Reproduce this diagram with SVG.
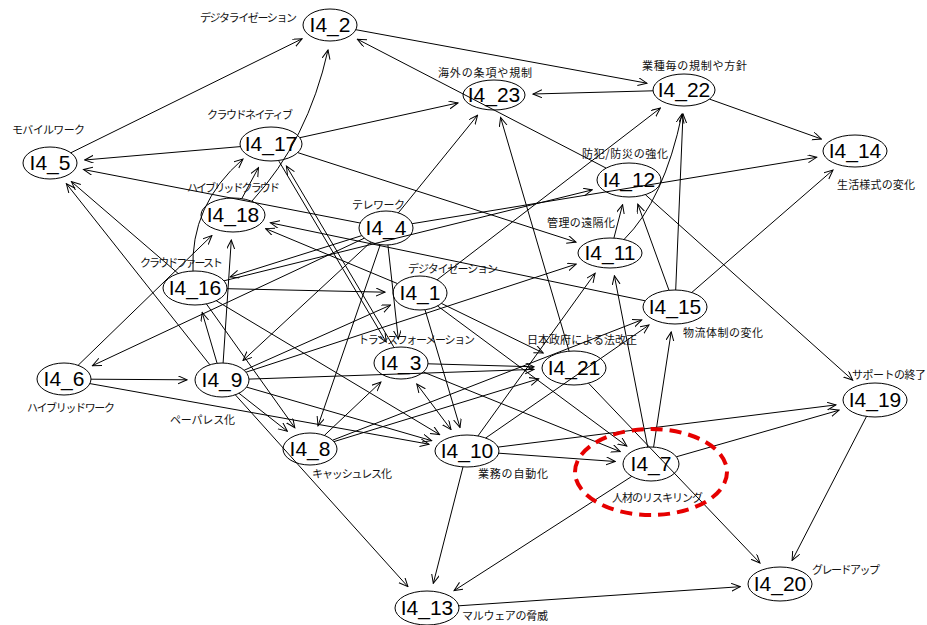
<svg xmlns="http://www.w3.org/2000/svg" width="927" height="625" viewBox="0 0 927 625">
<style>
.e{stroke:#000;stroke-width:1;fill:none;marker-end:url(#ah)}
.b{marker-start:url(#ah)}
.n ellipse{fill:none;stroke:#000;stroke-width:1}
.n .t{font-family:"Liberation Sans",Arial,sans-serif;font-size:21px;fill:#000;text-anchor:middle}
.n .l{font-family:"Noto Sans CJK JP","Noto Sans",sans-serif;font-size:11px;fill:#111}
.n ellipse.hl{fill:none;stroke:#e60000;stroke-width:4;stroke-dasharray:12 7}
</style>
<defs>
<marker id="ah" markerWidth="10" markerHeight="10" refX="9" refY="4" orient="auto-start-reverse" markerUnits="userSpaceOnUse"><path d="M0,0 L9,4 L0,8" fill="none" stroke="#000" stroke-width="1"/></marker>
</defs>
<rect width="927" height="625" fill="#fff"/>
<g id="edges">
<line class="e" x1="70.8" y1="152.8" x2="302.1" y2="38.8"/>
<line class="e" x1="240.4" y1="146.6" x2="84.7" y2="160"/>
<line class="e" x1="360.2" y1="223" x2="83.5" y2="169.5"/>
<line class="e" x1="209.9" y1="364.8" x2="66.4" y2="183.7"/>
<line class="e" x1="178.2" y1="273.5" x2="71.4" y2="181.6"/>
<line class="e" x1="299.8" y1="137.7" x2="458" y2="102.9"/>
<line class="e" x1="297.7" y1="152.6" x2="576" y2="242.1"/>
<path class="e" d="M193,271 Q190,205 243,159"/>
<line class="e" x1="241.8" y1="198.6" x2="258.5" y2="167.6"/>
<line class="e" x1="393.7" y1="346.9" x2="286.4" y2="166"/>
<line class="e" x1="278.9" y1="161.1" x2="386.2" y2="342"/>
<path class="e" d="M252,201 Q308,140 328,50"/>
<line class="e" x1="355.8" y1="29.7" x2="646.9" y2="83.2"/>
<line class="e" x1="606.1" y1="168.1" x2="357.4" y2="39.2"/>
<line class="e" x1="398.3" y1="212.9" x2="477.6" y2="115.2"/>
<line class="e" x1="653.1" y1="90.8" x2="533" y2="94"/>
<line class="e" x1="569.1" y1="351.2" x2="500.6" y2="117.5"/>
<line class="e" x1="709.5" y1="99.1" x2="821.4" y2="139"/>
<line class="e" x1="437.1" y1="279.8" x2="660.4" y2="108.1"/>
<path class="e" d="M624,239.5 Q664,200 682,114"/>
<line class="e" x1="675.7" y1="290" x2="683" y2="114"/>
<line class="e" x1="412.1" y1="223.7" x2="816.7" y2="157.3"/>
<line class="e" x1="691.7" y1="292.5" x2="833" y2="170"/>
<line class="e" x1="613.9" y1="238.1" x2="622.6" y2="204.6"/>
<line class="e" x1="669" y1="290.3" x2="637.8" y2="204.2"/>
<line class="e" x1="224" y1="280.8" x2="592.2" y2="189.9"/>
<line class="e" x1="645.3" y1="194.6" x2="852.7" y2="380.1"/>
<line class="e" x1="645.2" y1="300.8" x2="270.4" y2="222.8"/>
<line class="e" x1="397.5" y1="283.6" x2="265.6" y2="228.6"/>
<line class="e" x1="361.8" y1="235.6" x2="230.2" y2="277"/>
<line class="e" x1="364.3" y1="238.2" x2="92.4" y2="365.7"/>
<line class="e" x1="370.8" y1="242.1" x2="243" y2="360.5"/>
<line class="e" x1="380.3" y1="244.6" x2="318" y2="425.8"/>
<line class="e" x1="387.9" y1="245" x2="398.3" y2="339.1"/>
<line class="e" x1="78.1" y1="365.3" x2="211.9" y2="235.5"/>
<line class="e" x1="223.1" y1="363" x2="231.3" y2="240"/>
<line class="e" x1="217.1" y1="363.3" x2="202.2" y2="312.5"/>
<line class="e" x1="91" y1="379.2" x2="187" y2="379.8"/>
<line class="e" x1="89.9" y1="383.6" x2="429" y2="444.2"/>
<line class="e" x1="227" y1="288.7" x2="385" y2="292.2"/>
<line class="e" x1="244.1" y1="370.3" x2="390.5" y2="305.1"/>
<line class="e" x1="246" y1="372.2" x2="576.2" y2="264.1"/>
<line class="e" x1="249" y1="379.1" x2="534.1" y2="369.4"/>
<line class="e" x1="238.9" y1="393.2" x2="287.4" y2="431.3"/>
<line class="e" x1="206.4" y1="303.9" x2="294.8" y2="427.8"/>
<line class="e" x1="216.2" y1="300.7" x2="439.6" y2="434.6"/>
<line class="e" x1="246.5" y1="387.1" x2="431.6" y2="440.7"/>
<line class="e" x1="235.3" y1="394.8" x2="407.9" y2="586.7"/>
<line class="e" x1="425" y1="309.7" x2="460" y2="427.5"/>
<line class="e" x1="441.4" y1="303.4" x2="543.2" y2="353"/>
<line class="e" x1="437.5" y1="305.9" x2="626.8" y2="446.1"/>
<line class="e" x1="428" y1="363.8" x2="534" y2="366.8"/>
<line class="e" x1="423.3" y1="372" x2="620.2" y2="451.6"/>
<line class="e b" x1="416.8" y1="384" x2="451" y2="429.6"/>
<line class="e" x1="324.3" y1="435.5" x2="380.9" y2="382"/>
<line class="e" x1="334" y1="441.6" x2="538.7" y2="378.8"/>
<line class="e" x1="332.6" y1="440.2" x2="641.7" y2="319.9"/>
<line class="e" x1="477.9" y1="436" x2="595.1" y2="273.3"/>
<line class="e" x1="485.7" y1="438" x2="649" y2="325"/>
<line class="e" x1="498" y1="447.1" x2="835.9" y2="404.9"/>
<line class="e" x1="498.7" y1="453.2" x2="615.2" y2="461.5"/>
<line class="e" x1="463" y1="466.9" x2="433.3" y2="583.4"/>
<line class="e" x1="653.6" y1="447.1" x2="671.2" y2="331.9"/>
<line class="e" x1="647.7" y1="447.1" x2="614.4" y2="275.8"/>
<line class="e" x1="676.3" y1="456.8" x2="839.1" y2="410.2"/>
<line class="e" x1="631.8" y1="476.4" x2="454.1" y2="590.6"/>
<line class="e" x1="588.5" y1="383.2" x2="760" y2="563"/>
<line class="e" x1="866.5" y1="416.4" x2="792.1" y2="560.5"/>
<line class="e" x1="458.7" y1="605.8" x2="740.3" y2="586.7"/>
</g>
<g id="n1" class="n"><ellipse cx="420" cy="293" rx="27" ry="17"/><text class="t" x="420" y="300">I4_1</text><text class="l" x="408" y="273" textLength="90">デジタイゼーション</text></g>
<g id="n2" class="n"><ellipse cx="330" cy="25" rx="27" ry="16"/><text class="t" x="330" y="32">I4_2</text><text class="l" x="200" y="22" textLength="97">デジタライゼーション</text></g>
<g id="n3" class="n"><ellipse cx="401" cy="363" rx="27" ry="16"/><text class="t" x="401" y="370">I4_3</text><text class="l" x="358" y="344" textLength="117">トランスフォーメーション</text></g>
<g id="n4" class="n"><ellipse cx="386" cy="228" rx="27" ry="17"/><text class="t" x="386" y="235">I4_4</text><text class="l" x="352" y="209" textLength="53">テレワーク</text></g>
<g id="n5" class="n"><ellipse cx="50" cy="163" rx="27" ry="16"/><text class="t" x="50" y="170">I4_5</text><text class="l" x="12" y="134" textLength="73">モバイルワーク</text></g>
<g id="n6" class="n"><ellipse cx="64" cy="379" rx="27" ry="16"/><text class="t" x="64" y="386">I4_6</text><text class="l" x="27" y="412" textLength="88">ハイブリッドワーク</text></g>
<g id="n7" class="n"><ellipse cx="651" cy="464" rx="28" ry="17"/><text class="t" x="651" y="471">I4_7</text><text class="l" x="612" y="502" textLength="91">人材のリスキリング</text><ellipse class="hl" cx="651" cy="472" rx="76" ry="43"/></g>
<g id="n8" class="n"><ellipse cx="310" cy="449" rx="27" ry="16"/><text class="t" x="310" y="456">I4_8</text><text class="l" x="312" y="478" textLength="80">キャッシュレス化</text></g>
<g id="n9" class="n"><ellipse cx="222" cy="380" rx="27" ry="17"/><text class="t" x="222" y="387">I4_9</text><text class="l" x="170" y="424" textLength="65">ペーパレス化</text></g>
<g id="n10" class="n"><ellipse cx="467" cy="451" rx="32" ry="16"/><text class="t" x="467" y="458">I4_10</text><text class="l" x="478" y="478" textLength="70">業務の自動化</text></g>
<g id="n11" class="n"><ellipse cx="610" cy="253" rx="32" ry="15"/><text class="t" x="610" y="260">I4_11</text><text class="l" x="547" y="227" textLength="68">管理の遠隔化</text></g>
<g id="n12" class="n"><ellipse cx="629" cy="180" rx="32" ry="17"/><text class="t" x="629" y="187">I4_12</text><text class="l" x="582" y="158" textLength="86">防犯/防災の強化</text></g>
<g id="n13" class="n"><ellipse cx="427" cy="608" rx="32" ry="17"/><text class="t" x="427" y="615">I4_13</text><text class="l" x="462" y="620" textLength="86">マルウェアの脅威</text></g>
<g id="n14" class="n"><ellipse cx="855" cy="151" rx="32" ry="16"/><text class="t" x="855" y="158">I4_14</text><text class="l" x="837" y="189" textLength="78">生活様式の変化</text></g>
<g id="n15" class="n"><ellipse cx="675" cy="307" rx="32" ry="17"/><text class="t" x="675" y="314">I4_15</text><text class="l" x="683" y="337" textLength="80">物流体制の変化</text></g>
<g id="n16" class="n"><ellipse cx="195" cy="288" rx="32" ry="17"/><text class="t" x="195" y="295">I4_16</text><text class="l" x="140" y="267" textLength="83">クラウドファースト</text></g>
<g id="n17" class="n"><ellipse cx="271" cy="144" rx="31" ry="17"/><text class="t" x="271" y="151">I4_17</text><text class="l" x="207" y="119" textLength="86">クラウドネイティブ</text></g>
<g id="n18" class="n"><ellipse cx="233" cy="215" rx="32" ry="17"/><text class="t" x="233" y="222">I4_18</text><text class="l" x="187" y="192" textLength="93">ハイブリッドクラウド</text></g>
<g id="n19" class="n"><ellipse cx="875" cy="400" rx="32" ry="17"/><text class="t" x="875" y="407">I4_19</text><text class="l" x="852" y="379" textLength="74">サポートの終了</text></g>
<g id="n20" class="n"><ellipse cx="780" cy="584" rx="32" ry="17"/><text class="t" x="780" y="591">I4_20</text><text class="l" x="812" y="574" textLength="68">グレードアップ</text></g>
<g id="n21" class="n"><ellipse cx="574" cy="368" rx="32" ry="17"/><text class="t" x="574" y="375">I4_21</text><text class="l" x="527" y="344" textLength="110">日本政府による法改正</text></g>
<g id="n22" class="n"><ellipse cx="684" cy="90" rx="31" ry="16"/><text class="t" x="684" y="97">I4_22</text><text class="l" x="642" y="70" textLength="105">業種毎の規制や方針</text></g>
<g id="n23" class="n"><ellipse cx="494" cy="95" rx="31" ry="15"/><text class="t" x="494" y="102">I4_23</text><text class="l" x="438" y="77" textLength="94">海外の条項や規制</text></g>
</svg>
